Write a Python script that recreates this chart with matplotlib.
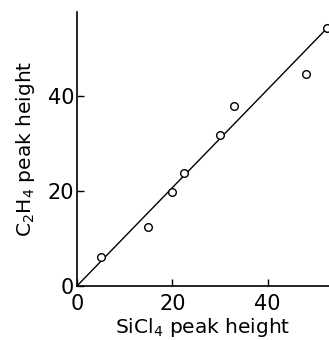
import matplotlib
matplotlib.use("Agg")
from matplotlib import pyplot as plt

# peak heights
sicl4 = [5, 15, 20, 22.5, 30, 33, 48, 52.5]
c2h4 = [6, 12.3, 19.8, 23.7, 31.8, 37.8, 44.6, 54.2]
fit_x = [0, 53]
fit_y = [0, 54.7]
ticks = [0, 20, 40]

plt.rcParams['font.family'] = ['DejaVu Sans']

fig = plt.figure(figsize=(3.29, 3.40), dpi=100)
ax = fig.add_axes([0.234, 0.159, 0.766, 0.806])

ax.plot(fit_x, fit_y, color='black', lw=1.0)
ax.plot(sicl4, c2h4, 'o', mfc='white', mec='black', ms=5.5, mew=1.0, clip_on=False)

ax.set_xlim(0, 52.9)
ax.set_ylim(0, 57.6)
ax.set_xticks(ticks)
ax.set_yticks(ticks)
ax.set_xticklabels([str(t) for t in ticks], fontsize=15)
ax.set_yticklabels([str(t) for t in ticks], fontsize=15)
ax.tick_params(direction='in', length=5, width=1)
ax.tick_params(axis='y', pad=2)
ax.tick_params(axis='x', pad=6)

for s in ['top', 'right']:
    ax.spines[s].set_visible(False)
for s in ['left', 'bottom']:
    ax.spines[s].set_linewidth(1.2)

ax.set_xlabel('SiCl$_4$ peak height', fontsize=14.5, labelpad=1)
ax.set_ylabel('C$_2$H$_4$ peak height', fontsize=14.5, labelpad=8)

fig.savefig('out.png', dpi=100)
